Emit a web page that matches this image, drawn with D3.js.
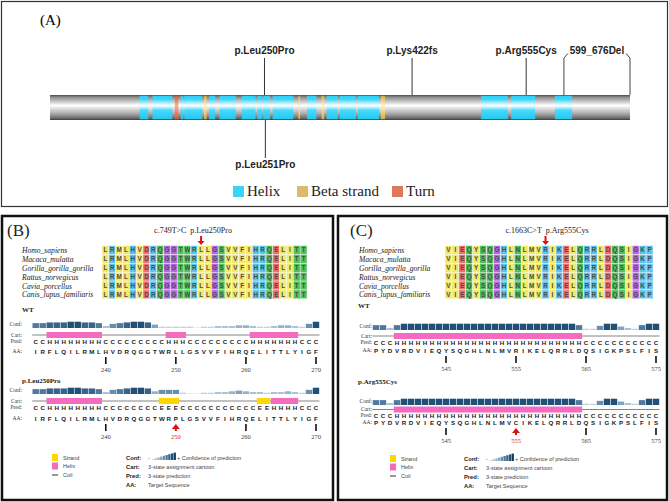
<!DOCTYPE html>
<html><head><meta charset="utf-8">
<script src="https://cdnjs.cloudflare.com/ajax/libs/d3/7.8.5/d3.min.js"></script>
<style>body{margin:0;background:#fff}svg{display:block}</style>
</head><body><svg id="c" width="669" height="502"></svg>
<script>
// ---------- DATA ----------
const proteinLength = 676;
const helixRegions = [[105,114],[120,142],[153,155],[157,177],[186,192],[198,216],[224,239],[242,247],[249,256],[260,283],[300,310],[323,335],[338,356],[359,383],[503,533],[538,565],[589,608]];
const strandRegions = [[180,182],[290,291],[317,319],[386,390]];
const turnRegions = [[146,149]];
const mutationsTop = [{label:"p.Leu250Pro", pos:250},{label:"p.Lys422fs", pos:422},{label:"p.Arg555Cys", pos:555}];
const mutationsBottom = [{label:"p.Leu251Pro", pos:251}];
const deletion = {label:"599_676Del", start:599, end:676};
const legendA = [{label:"Helix", color:"#3dd3f7"},{label:"Beta strand", color:"#dcbb6a"},{label:"Turn", color:"#dc7a5c"}];

const speciesNames = ["Homo_sapiens","Macaca_mulatta","Gorilla_gorilla_gorilla","Rattus_norvegicus","Cavia_porcellus","Canis_lupus_familiaris"];
const alignB = ["LRMLHVDRQGGTWRLLGSVVFIHRQELITT","LRMLHVDRQGGTWRLLGSVVFIHRQELITT","LRMLHVDRQGGTWRLLGSVVFIHRQELITT","LRMLHVDRQGGTWRLLGSVVFIHRQELITT","LRMLHVDRQGGTWRLLGSVVFIHRQELITT","LRMLHVDRQGGTWRLLGSVVFIHRQELITT"];
const alignC = ["VIEQYSQGHLNLMVRIKELQRRLDQSIGKP","VIEQYSQGHLNLMVRIKELQRRLDQSIGKP","VIEQYSQGHLNLMVRIKELQRRLDQSIGKP","VIEQYSQGHLNLMVRIKELQRRLDQSIGKP","VIEQYSQGHLNLMVRIKELQRRLDQSIGKP","VIEQYSQGHLNLMVRIKELQRRLDQSIGKP"];

const rangeB = [230, 270];
const seqB_WT  = "IRFLQILRMLHVDRQGGTWRLLGSVVFIHRQELITTLYIGF";
const seqB_Mut = "IRFLQILRMLHVDRQGGTWRPLGSVVFIHRQELITTLYIGF";
const predB_WT  = "CCHHHHHHHHCCCCCCCCCHHHCCCCCCCCCHHHHHHHCCC";
const predB_Mut = "CCHHHHHHHHCCCCCCCCEEECCCCCCCCCCCEEHHHHCCC";
const confB_WT  = [6,6,7,7,7,8,8,7,7,6, 2,5,6,7,8,8,7,4,1,1, 1,1,1,0,1,1,2,2,2,3, 3,2,1,1,2,3,3,2,1,5,8];
const confB_Mut = [6,6,7,7,7,8,8,7,7,6, 2,5,6,7,8,8,7,3,5,5, 5,1,0,0,1,1,2,2,3,4, 3,2,2,1,2,2,3,2,1,5,8];
const ticksB = [240,250,260,270];

const rangeC = [535, 575];
const seqC_WT  = "PYDVRDVIEQYSQGHLNLMVRIKELQRRLDQSIGKPSLFIS";
const seqC_Mut = "PYDVRDVIEQYSQGHLNLMVCIKELQRRLDQSIGKPSLFIS";
const predC_WT  = "CCCHHHHHHHHHHHHHHHHHHHHHHHHHHHCCCCCCCCCCC";
const predC_Mut = "CCCHHHHHHHHHHHHHHHHHHHHHHHHHHHCCCCCCCCCCC";
const confC_WT  = [6,6,2,6,8,8,8,8,8,8, 8,8,8,8,8,8,8,8,8,8, 8,8,8,8,8,8,8,8,8,6, 1,1,5,8,8,4,2,1,6,8,8];
const confC_Mut = [6,6,2,6,8,8,8,8,8,8, 8,8,8,8,8,8,8,8,8,8, 8,8,8,8,8,8,8,8,8,6, 1,1,5,8,8,4,2,1,6,8,8];
const ticksC = [545,555,565,575];

const psipredLegend = [["Conf:","Confidence of prediction"],["Cart:","3-state assignment cartoon"],["Pred:","3-state prediction"],["AA:","Target Sequence"]];
const ssLegend = [{label:"Strand", color:"#ffd600"},{label:"Helix", color:"#f46bc0"},{label:"Coil", color:null}];

// ---------- STYLE ----------
const aaColor = {L:"#f2e96a",M:"#f2e96a",V:"#f2e96a",I:"#f2e96a",F:"#f2e96a",Y:"#f2e96a",A:"#f2e96a",
  R:"#5cc4ee",H:"#5cc4ee",K:"#5cc4ee",P:"#5cc4ee",
  D:"#ee6f6f",E:"#ee6f6f",
  Q:"#4fc25a",T:"#4fc25a",S:"#4fc25a",N:"#4fc25a",W:"#4fc25a",C:"#4fc25a",
  G:"#b667e0"};
const serif = "'Liberation Serif','Times New Roman',serif";
const sans = "'Liberation Sans',Arial,sans-serif";

const svg = d3.select("#c");
svg.append("rect").attr("width",669).attr("height",502).attr("fill","#fff");
const defs = svg.append("defs");
function vgrad(id, stops){
  const g = defs.append("linearGradient").attr("id",id).attr("x1",0).attr("y1",0).attr("x2",0).attr("y2",1);
  stops.forEach(s=>g.append("stop").attr("offset",s[0]).attr("stop-color",s[1]));
}
vgrad("gGray",[[0,"#4a4a4a"],[0.08,"#8a8a8a"],[0.42,"#ffffff"],[0.75,"#a8a8a8"],[0.93,"#6a6a6a"],[1,"#3a3a3a"]]);
vgrad("gCyan",[[0,"#2ccff7"],[0.15,"#3dd5f8"],[0.42,"#ffffff"],[0.62,"#48d8fa"],[1,"#22c8f2"]]);
vgrad("gStrand",[[0,"#d9a93a"],[0.42,"#fff4d0"],[1,"#d9a93a"]]);
vgrad("gTurn",[[0,"#d65a30"],[0.42,"#f6b090"],[1,"#d65a30"]]);

// ---------- PANEL A ----------
svg.append("rect").attr("x",1.5).attr("y",1.5).attr("width",666).attr("height",205).attr("fill","none").attr("stroke","#333").attr("stroke-width",1.2);
svg.append("text").attr("x",40).attr("y",25).attr("font-family",serif).attr("font-size",15).text("(A)");

const xA = d3.scaleLinear().domain([0, proteinLength]).range([50, 630]);
const barY = 95, barH = 25;
const gA = svg.append("g");
gA.append("rect").attr("x",xA(0)).attr("y",barY).attr("width",xA(proteinLength)-xA(0)).attr("height",barH).attr("fill","url(#gGray)");
function segs(data, fill){
  gA.selectAll(null).data(data).enter().append("rect")
    .attr("x",d=>xA(d[0]-0.5)).attr("y",barY+0.8).attr("width",d=>Math.max(1.2,xA(d[1]+0.5)-xA(d[0]-0.5))).attr("height",barH-1.6).attr("fill",fill);
}
segs(helixRegions,"url(#gCyan)");
segs(strandRegions,"url(#gStrand)");
segs(turnRegions,"url(#gTurn)");

const lblA = {"font-family":sans,"font-size":10,"font-weight":"bold","fill":"#222","text-anchor":"middle"};
mutationsTop.forEach(m=>{
  gA.append("line").attr("x1",xA(m.pos)).attr("x2",xA(m.pos)).attr("y1",58).attr("y2",barY).attr("stroke","#333").attr("stroke-width",1);
  const t = gA.append("text").attr("x",xA(m.pos)).attr("y",54).text(m.label);
  Object.entries(lblA).forEach(([k,v])=>t.attr(k,v));
});
mutationsBottom.forEach(m=>{
  gA.append("line").attr("x1",xA(m.pos)).attr("x2",xA(m.pos)).attr("y1",barY+barH).attr("y2",158).attr("stroke","#333").attr("stroke-width",1);
  const t = gA.append("text").attr("x",xA(m.pos)).attr("y",168).text(m.label);
  Object.entries(lblA).forEach(([k,v])=>t.attr(k,v));
});
{
  const x1 = xA(deletion.start), x2 = xA(deletion.end);
  gA.append("path").attr("d",`M${x1},${barY}V58L${x1+4},53.5`).attr("fill","none").attr("stroke","#444").attr("stroke-width",1);
  gA.append("path").attr("d",`M${x2},${barY}V58L${x2-4},53.5`).attr("fill","none").attr("stroke","#444").attr("stroke-width",1);
  const t = gA.append("text").attr("x",(x1+x2)/2).attr("y",54).text(deletion.label);
  Object.entries(lblA).forEach(([k,v])=>t.attr(k,v));
}
// legend A
const legX = [233, 297, 392];
legendA.forEach((d,i)=>{
  gA.append("rect").attr("x",legX[i]).attr("y",186).attr("width",11).attr("height",11).attr("fill",d.color);
  gA.append("text").attr("x",legX[i]+14).attr("y",196).attr("font-family",serif).attr("font-size",15).attr("fill","#222").text(d.label);
});

// ---------- PANELS B / C ----------
svg.append("rect").attr("x",2).attr("y",216).attr("width",331).attr("height",284).attr("fill","none").attr("stroke","#111").attr("stroke-width",2.5);
svg.append("rect").attr("x",338).attr("y",216).attr("width",329).attr("height",284).attr("fill","none").attr("stroke","#111").attr("stroke-width",2.5);

const confColor = d3.scaleLinear().domain([0,4,9]).range(["#d9e1ea","#7fa3c4","#0b3a62"]);

function redArrowDown(g,x,y1,y2){
  g.append("line").attr("x1",x).attr("x2",x).attr("y1",y1).attr("y2",y2-3).attr("stroke","#e01010").attr("stroke-width",2);
  g.append("path").attr("d",`M${x-3.5},${y2-4}L${x+3.5},${y2-4}L${x},${y2}Z`).attr("fill","#e01010");
}
function redArrowUp(g,x,y1,y2){
  g.append("line").attr("x1",x).attr("x2",x).attr("y1",y1+3).attr("y2",y2).attr("stroke","#e01010").attr("stroke-width",2);
  g.append("path").attr("d",`M${x-4},${y1+5}L${x+4},${y1+5}L${x},${y1}Z`).attr("fill","#e01010");
}

function drawAlignment(g, o){
  g.append("text").attr("x",o.labelX).attr("y",236).attr("font-family",serif).attr("font-size",17).attr("fill","#222").text(o.panel);
  g.append("text").attr("x",o.mutTextX).attr("y",232.5).attr("text-anchor","middle").attr("font-family",serif).attr("font-size",8).attr("fill","#222").text(o.mutText);
  const cols = d3.scaleBand().domain(d3.range(o.align[0].length)).range(o.alignX);
  const rows = d3.scaleBand().domain(d3.range(o.align.length)).range([245.6,298.8]);
  redArrowDown(g, cols(o.mutCol)+cols.bandwidth()/2, 236, 245);
  speciesNames.forEach((s,i)=>{
    g.append("text").attr("x",o.speciesX).attr("y",rows(i)+rows.bandwidth()/2+3).attr("font-family",serif).attr("font-style","italic").attr("font-size",7.6).attr("fill","#222").text(s);
  });
  o.align.forEach((seq,i)=>{
    seq.split("").forEach((c,j)=>{
      g.append("rect").attr("x",cols(j)).attr("y",rows(i)).attr("width",cols.bandwidth()).attr("height",rows.bandwidth()).attr("fill",aaColor[c]||"#ddd").attr("stroke","#fff").attr("stroke-width",0.4);
      g.append("text").attr("x",cols(j)+cols.bandwidth()/2).attr("y",rows(i)+rows.bandwidth()/2+2.3).attr("text-anchor","middle").attr("font-family",sans).attr("font-weight","bold").attr("font-size",6.3).attr("fill","#4a4a4a").text(c);
    });
  });
}

function drawPsipred(g, o){
  const x = o.x, w = x(o.range[0]+1)-x(o.range[0]);
  const res = d3.range(o.range[0], o.range[1]+1);
  const L = {"font-family":serif,"font-size":5.5,"fill":"#333","text-anchor":"end"};
  const lab = (txt,y)=>{const t=g.append("text").attr("x",o.labelRight).attr("y",y).text(txt);Object.entries(L).forEach(([k,v])=>t.attr(k,v));};
  g.append("text").attr("x",o.titleX).attr("y",o.titleY).attr("font-family",serif).attr("font-weight","bold").attr("font-size",7).attr("fill","#222").text(o.title);
  lab("Conf:",o.y-1);
  const hScale = d3.scaleLinear().domain([0,9]).range([0.6,7]);
  g.selectAll(null).data(res).enter().append("rect")
    .attr("x",d=>x(d)-w/2+0.3).attr("width",w-0.6)
    .attr("y",(d,i)=>o.y+1-hScale(o.conf[i])).attr("height",(d,i)=>hScale(o.conf[i]))
    .attr("fill",(d,i)=>confColor(o.conf[i]));
  const cy = o.y+o.cartDy;
  lab("Cart:",cy+1.5);
  g.append("line").attr("x1",x(o.range[0])-w/2).attr("x2",x(o.range[1])+w/2).attr("y1",cy).attr("y2",cy).attr("stroke","#777").attr("stroke-width",0.9);
  const runs=[]; let s=0;
  for(let i=1;i<=o.pred.length;i++){ if(i===o.pred.length||o.pred[i]!==o.pred[s]){ runs.push([o.pred[s],s,i-1]); s=i; } }
  runs.filter(r=>r[0]!=="C").forEach(r=>{
    g.append("rect").attr("x",x(res[r[1]])-w/2+0.3).attr("width",x(res[r[2]])-x(res[r[1]])+w-0.6).attr("y",cy-3).attr("height",6).attr("fill",r[0]==="H"?"#f46bc0":"#ffd600");
  });
  lab("Pred:",o.y+o.predDy-1);
  o.pred.split("").forEach((c,i)=>g.append("text").attr("x",x(res[i])).attr("y",o.y+o.predDy).attr("text-anchor","middle").attr("font-family",sans).attr("font-weight","bold").attr("font-size",6.2).attr("fill","#222").text(c));
  lab("AA:",o.y+o.aaDy);
  o.aa.split("").forEach((c,i)=>g.append("text").attr("x",x(res[i])).attr("y",o.y+o.aaDy+0.5).attr("text-anchor","middle").attr("font-family",sans).attr("font-weight","bold").attr("font-size",6.2).attr("fill","#222").text(c));
  const ty = o.y+o.aaDy+4;
  o.ticks.forEach(t=>{
    if(o.mut===t){
      redArrowUp(g,x(t),ty,ty+7);
    } else {
      g.append("line").attr("x1",x(t)).attr("x2",x(t)).attr("y1",ty).attr("y2",ty+7).attr("stroke","#111").attr("stroke-width",1.6);
    }
    g.append("text").attr("x",x(t)).attr("y",ty+15).attr("text-anchor","middle").attr("font-family",serif).attr("font-size",6.5).attr("fill",o.mut===t?"#e02020":"#444").text(t);
  });
}

function drawLegends(g, ox, y0){
  ssLegend.forEach((d,i)=>{
    const y = y0 + i*8.5;
    if(d.color) g.append("rect").attr("x",ox+52).attr("y",y).attr("width",6).attr("height",7).attr("fill",d.color);
    else g.append("line").attr("x1",ox+52).attr("x2",ox+58).attr("y1",y+4).attr("y2",y+4).attr("stroke","#555").attr("stroke-width",1.2);
    g.append("text").attr("x",ox+63).attr("y",y+5.5).attr("font-family",sans).attr("font-size",5.5).attr("fill","#444").text(d.label);
  });
  psipredLegend.forEach((d,i)=>{
    const y = y0 + 5.5 + i*9;
    g.append("text").attr("x",ox+126).attr("y",y).attr("font-family",sans).attr("font-weight","bold").attr("font-size",5.8).attr("fill","#222").text(d[0]);
    g.append("text").attr("x",ox+148+(i===0?29:0)).attr("y",y).attr("font-family",sans).attr("font-size",5.5).attr("fill","#444").text(i===0?"+ "+d[1]:d[1]);
  });
  g.append("text").attr("x",ox+148).attr("y",y0+5.5).attr("font-family",sans).attr("font-size",5.5).attr("fill","#444").text("-");
  d3.range(9).forEach(k=>{
    const h = 1+k*0.8;
    g.append("rect").attr("x",ox+152+k*2.7).attr("y",y0+6-h).attr("width",2.3).attr("height",h).attr("fill",confColor(k+1));
  });
}

// Panel B
const gB = svg.append("g");
drawAlignment(gB,{panel:"(B)",labelX:7,mutText:"c.749T>C\u00a0\u00a0p.Leu250Pro",mutTextX:193,align:alignB,alignX:[102,307],speciesX:22,mutCol:14});
const xB = d3.scaleLinear().domain(rangeB).range([35.7,316]);
drawPsipred(gB,{x:xB,range:rangeB,y:327,conf:confB_WT,pred:predB_WT,aa:seqB_WT,ticks:ticksB,mut:null,title:"WT",titleX:22,titleY:312,labelRight:22,cartDy:8,predDy:17,aaDy:26});
drawPsipred(gB,{x:xB,range:rangeB,y:393,conf:confB_Mut,pred:predB_Mut,aa:seqB_Mut,ticks:ticksB,mut:250,title:"p.Leu250Pro",titleX:22,titleY:383,labelRight:22,cartDy:8,predDy:17,aaDy:27});
drawLegends(gB,0,454);

// Panel C
const gC = svg.append("g");
drawAlignment(gC,{panel:"(C)",labelX:350,mutText:"c.1663C>T\u00a0\u00a0p.Arg555Cys",mutTextX:547,align:alignC,alignX:[445,653],speciesX:359,mutCol:14});
const xC = d3.scaleLinear().domain(rangeC).range([376,656]);
drawPsipred(gC,{x:xC,range:rangeC,y:329,conf:confC_WT,pred:predC_WT,aa:seqC_WT,ticks:ticksC,mut:null,title:"WT",titleX:358,titleY:308,labelRight:372,cartDy:7,predDy:16,aaDy:23});
drawPsipred(gC,{x:xC,range:rangeC,y:404,conf:confC_Mut,pred:predC_Mut,aa:seqC_Mut,ticks:ticksC,mut:555,title:"p.Arg555Cys",titleX:358,titleY:384,labelRight:372,cartDy:5.5,predDy:13.5,aaDy:20});
drawLegends(gC,338,455);
</script></body></html>
